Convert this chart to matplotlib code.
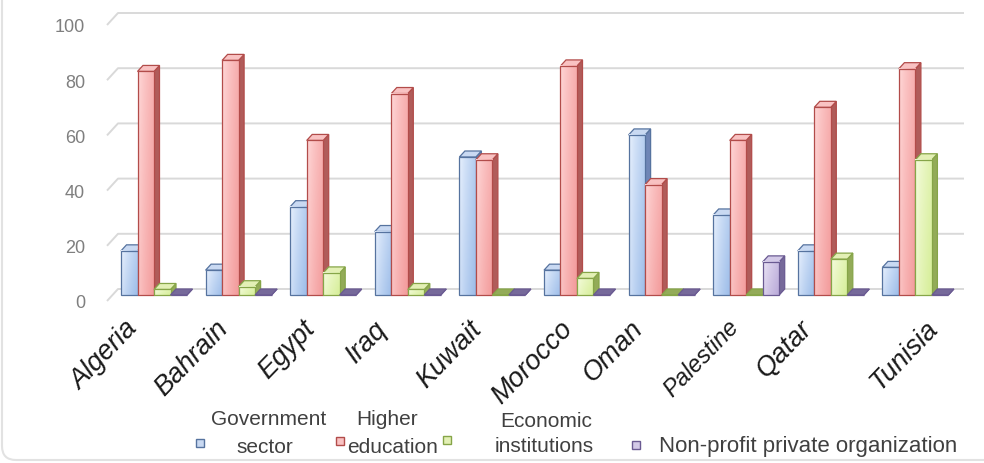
import numpy as np
import matplotlib.pyplot as plt
from matplotlib.patches import Polygon, Rectangle, FancyBboxPatch
from matplotlib.colors import to_rgb
from matplotlib.transforms import IdentityTransform

plt.rcParams['font.family'] = ['Liberation Sans', 'DejaVu Sans']

# Data
countries = ["Algeria", "Bahrain", "Egypt", "Iraq", "Kuwait",
             "Morocco", "Oman", "Palestine", "Qatar", "Tunisia"]
government = [16, 9, 32, 23, 50, 9, 58, 29, 16, 10]
higher_edu = [81, 85, 56, 73, 49, 83, 40, 56, 68, 82]
economic = [2, 3, 8, 2, 0, 6, 0, 0, 13, 49]
nonprofit = [0, 0, 0, 0, 0, 0, 0, 12, 0, 0]
series_labels = ["Government\nsector", "Higher\neducation",
                 "Economic\ninstitutions", "Non-profit private organization"]
y_ticks = [0, 20, 40, 60, 80, 100]

series = [government, higher_edu, economic, nonprofit]

# light / dark front gradient, side, top, edge
styles = [
    dict(light="#eaf2fe", dark="#9dbde9", side="#6f86b6", top="#c9d9f2", edge="#56739f"),
    dict(light="#ffd9d9", dark="#f39b9b", side="#b05c5a", top="#f9c2c2", edge="#b24c4a"),
    dict(light="#f6fce0", dark="#d6ee98", side="#93ab58", top="#e3f0b5", edge="#86a548"),
    dict(light="#ece6f6", dark="#b8a8d8", side="#76699a", top="#d3c9e7", edge="#6a5a92"),
]

W, H = 984, 464
fig = plt.figure(figsize=(W / 100, H / 100), dpi=100)
fig.patch.set_facecolor("white")

PX_X = 84.6   # pixels per category
PX_Y = 2.76   # pixels per value unit
ax = fig.add_axes([108 / W, 162 / H, 860 / W, 302 / H])
ax.set_facecolor("none")

# pseudo-3D geometry
w = 16.5 / PX_X
dx, dy = 5.5 / PX_X, 6 / PX_Y          # bar depth
gdx, gdy = 11 / PX_X, 12 / PX_Y        # floor depth (back wall offset)
base = gdy - dy

x_left = (107 - 154) / PX_X
x_right = (964 - 154) / PX_X

# back wall gridlines with the little floor diagonal on the left
for v in y_ticks:
    ax.plot([x_left, x_left + gdx, x_right], [v, v + gdy, v + gdy],
            color="#d9d9d9", lw=1.4, clip_on=False, zorder=1,
            solid_capstyle="butt")

x = np.arange(len(countries))
tx = np.linspace(0, 1, 32)
ty = np.linspace(0, 1, 64)
TX, TY = np.meshgrid(tx, ty)
mix = np.clip(0.7 * TX ** 0.8 + 0.3 * (1 - TY), 0, 1)

for j, (vals, st) in enumerate(zip(series, styles)):
    z = 2 + j * 0.1
    light, dark = np.array(to_rgb(st["light"])), np.array(to_rgb(st["dark"]))
    grad = light + (dark - light) * mix[..., None]
    bars = ax.bar(x + (j - 1.5) * w, vals, w, bottom=base,
                  facecolor="none", edgecolor=st["edge"], lw=0.9, zorder=z + 0.05)
    for rect in bars:
        bx, by = rect.get_x(), rect.get_y()
        bw, bh = rect.get_width(), rect.get_height()
        top_y = by + bh
        # side face
        ax.add_patch(Polygon([(bx + bw, by), (bx + bw + dx, by + dy),
                              (bx + bw + dx, top_y + dy), (bx + bw, top_y)],
                             closed=True, fc=st["side"], ec=st["edge"], lw=0.9, zorder=z))
        # top face
        ax.add_patch(Polygon([(bx, top_y), (bx + dx, top_y + dy),
                              (bx + bw + dx, top_y + dy), (bx + bw, top_y)],
                             closed=True, fc=st["top"] if bh > 0 else st["side"],
                             ec=st["edge"], lw=0.9, zorder=z + 0.01))
        # gradient front
        if bh > 0:
            ax.imshow(grad, extent=[bx, bx + bw, by, top_y], origin="lower",
                      aspect="auto", interpolation="bilinear", zorder=z + 0.04)

ax.set_xlim((108 - 154) / PX_X, (968 - 154) / PX_X)
ax.set_ylim(0, 302 / PX_Y)
ax.set_yticks(y_ticks)
ax.set_xticks([])
ax.tick_params(axis="y", length=0, pad=16.5, labelsize=13, labelcolor="#7f7f7f")
for s in ax.spines.values():
    s.set_visible(False)

# rotated country names
label_dx = [-11, -5, -3, -15, -5, 1, -13, -3, -13, 28]
label_size = [19.5, 19.5, 19.5, 19.5, 19.5, 19.5, 19.5, 17, 19.5, 19.5]
for i, name in enumerate(countries):
    ax.annotate(name, xy=(i, 0), xytext=(label_dx[i] * 0.72, -14 * 0.72),
                textcoords="offset points", rotation=46, ha="right", va="top",
                fontsize=label_size[i], style="italic", color="#1a1a1a",
                annotation_clip=False)

# legend drawn by hand: square markers and stacked labels
def fx(px):
    return px / W


def fy(py):
    return 1 - py / H


marker_pos = [(200, 444), (340, 442), (447, 441), (636, 446)]
text_pos = [(269, 420, 265, 448), (387, 420, 393, 448), (546, 422, 544, 447)]
for k, st in enumerate(styles):
    mxp, myp = marker_pos[k]
    fig.add_artist(Rectangle((fx(mxp - 4), fy(myp + 4)), 8 / W, 8 / H,
                             fc=st["top"], ec=st["edge"], lw=1.0,
                             transform=fig.transFigure))
for k in range(3):
    l1, l2 = series_labels[k].split("\n")
    x1, y1, x2, y2 = text_pos[k]
    fig.text(fx(x1), fy(y1), l1, ha="center", va="center", fontsize=15, color="#404040")
    fig.text(fx(x2), fy(y2), l2, ha="center", va="center", fontsize=15, color="#404040")
fig.text(fx(659), fy(447), series_labels[3], ha="left", va="center",
         fontsize=16, color="#404040")

# faint chart frame
fig.add_artist(FancyBboxPatch((2, 3), 1200, 700,
                              boxstyle="round,pad=0,rounding_size=14",
                              fc="none", ec="#e2e2e2", lw=1.5,
                              transform=IdentityTransform()))

fig.savefig("out.png", dpi=100)
